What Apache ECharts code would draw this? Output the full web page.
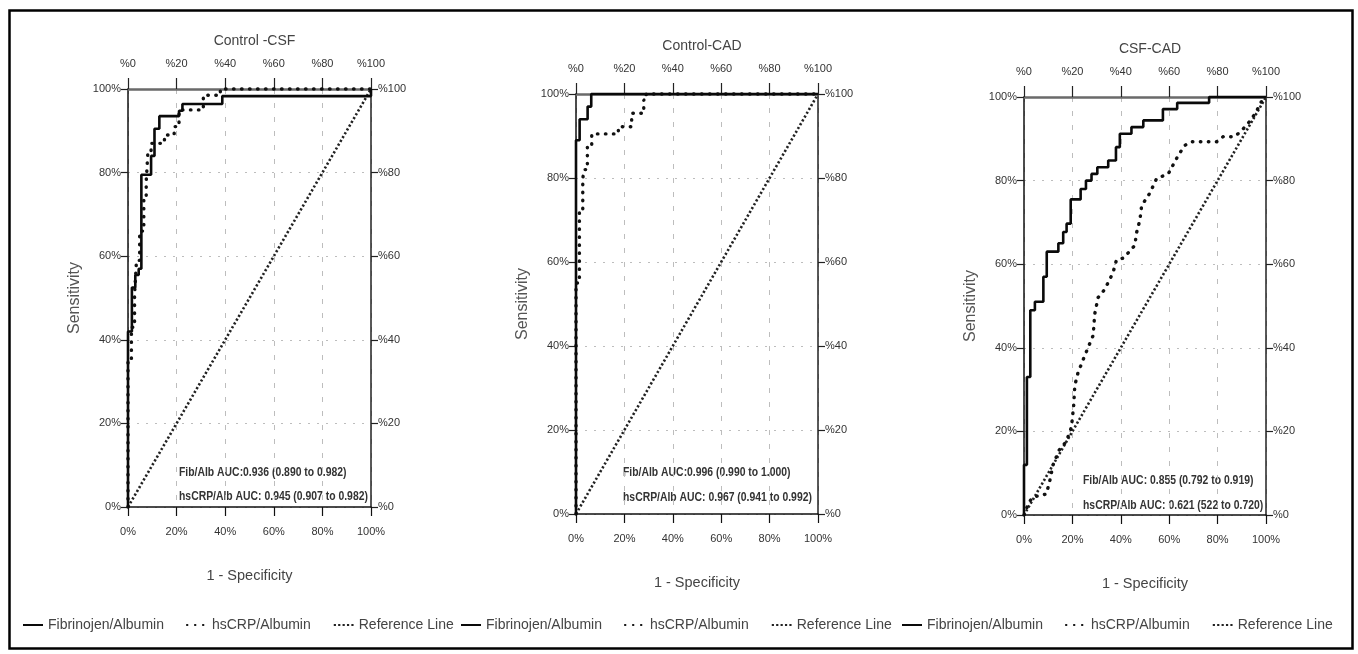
<!DOCTYPE html>
<html>
<head>
<meta charset="utf-8">
<script src="https://cdn.jsdelivr.net/npm/echarts@6/dist/echarts.min.js"></script>
<style>
html,body{margin:0;padding:0;background:#fff;}
#chart{width:1358px;height:654px;}
</style>
</head>
<body>
<div id="chart"></div>
<script>
// ---------- DATA ----------
const axisTicks = [0, 20, 40, 60, 80, 100];
const bottomTickLabels = ['0%', '20%', '40%', '60%', '80%', '100%'];
const topTickLabels = ['%0', '%20', '%40', '%60', '%80', '%100'];
const leftTickLabels = ['0%', '20%', '40%', '60%', '80%', '100%'];
const rightTickLabels = ['%0', '%20', '%40', '%60', '%80', '%100'];

const panelTitles = ['Control -CSF', 'Control-CAD', 'CSF-CAD'];
const seriesNames = ['Fibrinojen/Albumin', 'hsCRP/Albumin', 'Reference Line'];
const aucFibTexts = ['Fib/Alb AUC:0.936 (0.890 to 0.982)', 'Fib/Alb AUC:0.996 (0.990 to 1.000)', 'Fib/Alb AUC: 0.855 (0.792 to 0.919)'];
const aucHsTexts = ['hsCRP/Alb AUC: 0.945 (0.907 to 0.982)', 'hsCRP/Alb AUC: 0.967 (0.941 to 0.992)', 'hsCRP/Alb AUC: 0.621 (522 to 0.720)'];

// [1 - specificity %, sensitivity %]
const fibControlCsf = [[0,0],[0,42],[1.6,42],[1.6,52.5],[3,52.5],[3,55.5],[4.4,55.5],[4.4,57],[5.5,57],[5.5,79.5],[9.5,79.5],[9.5,84],[10.9,84],[10.9,90.5],[12.9,90.5],[12.9,93.5],[21,93.5],[21,94.8],[22.4,94.8],[22.4,96.4],[38.8,96.4],[38.8,98.3],[100,98.3],[100,100]];
const hsControlCsf = [[0,0],[0,35],[1.4,35],[1.4,43],[2.7,43],[2.7,51],[3.5,51],[3.5,59],[4.8,59],[4.8,66],[6.5,66],[6.5,74],[7.5,74],[7.5,78],[8.2,78],[8.2,85],[9.5,85],[9.5,87],[15,87],[15,89],[19,89],[19,91],[21,91],[21,95],[31,95],[31,98.5],[38,98.5],[38,100],[100,100]];

const fibControlCad = [[0,0],[0,89],[1.5,89],[1.5,94],[4.8,94],[4.8,97],[6.3,97],[6.3,100],[100,100]];
const hsControlCad = [[0,0],[0,55],[1.4,55],[1.4,72],[2.8,72],[2.8,80],[3.5,80],[3.5,82],[4.7,82],[4.7,88],[6.5,88],[6.5,90.5],[17.5,90.5],[17.5,92.2],[23,92.2],[23,95.4],[28,95.4],[28,98.6],[29,98.6],[29,100],[100,100]];

const fibCsfCad = [[0,0],[0,12],[1.2,12],[1.2,33],[2.6,33],[2.6,49],[4.5,49],[4.5,51],[8,51],[8,57],[9.4,57],[9.4,63],[14.2,63],[14.2,65],[16.2,65],[16.2,67.7],[17.6,67.7],[17.6,69.7],[19.3,69.7],[19.3,75.5],[23.4,75.5],[23.4,78],[25.6,78],[25.6,80],[27.9,80],[27.9,81.6],[30.3,81.6],[30.3,83.2],[34.8,83.2],[34.8,84.8],[38,84.8],[38,88],[39.6,88],[39.6,91.2],[44.4,91.2],[44.4,92.8],[49.3,92.8],[49.3,94.4],[57.4,94.4],[57.4,97.1],[63.3,97.1],[63.3,98.6],[76.5,98.6],[76.5,100],[100,100]];
const hsCsfCad = [[0,0],[2,3],[3.7,4.3],[9.2,5],[10.6,8],[12,12],[14.5,15.5],[17.5,17.6],[19.6,21],[20.5,26],[21,31],[22.3,34],[25,38],[28.6,43],[29.2,48],[30.6,52],[33.4,54],[36.8,58],[38.2,61],[41.2,61.5],[45.8,64.5],[46.5,67.5],[47.9,70.6],[48.6,74],[52,77],[54.8,80.5],[59.6,81.6],[63.7,86],[66.4,88.4],[69,89.3],[79.6,89.3],[82.3,90.5],[87,90.5],[90,92],[93,94],[95.5,96],[98,98.8],[100,100]];

const referenceLine = [[0,0],[100,100]];

const fibSeriesData = [fibControlCsf, fibControlCad, fibCsfCad];
const hsSeriesData = [hsControlCsf, hsControlCad, hsCsfCad];

// ---------- LAYOUT / STYLE ----------
const layout = [
  {left: 128, top: 89, width: 243, height: 418, aucLeft: 179, aucY1: 472, aucY2: 496, legendLeft: 17},
  {left: 576, top: 94, width: 242, height: 420, aucLeft: 623, aucY1: 472, aucY2: 497, legendLeft: 455},
  {left: 1024, top: 97, width: 242, height: 418, aucLeft: 1083, aucY1: 480, aucY2: 505, legendLeft: 896}
];
const sans = "'Liberation Sans', Arial, sans-serif";
const labelColor = '#333';

function labelFrom(arr) {
  return function (v) { const i = axisTicks.indexOf(Math.round(v)); return i >= 0 ? arr[i] : ''; };
}

const grid = [], xAxis = [], yAxis = [], series = [], title = [], legend = [], graphic = [];

layout.forEach(function (L, p) {
  grid.push({left: L.left, top: L.top, width: L.width, height: L.height, containLabel: false});
  const common = {type: 'value', min: 0, max: 100, interval: 20, gridIndex: p};
  const tickLabel = {fontFamily: sans, fontSize: 11, color: labelColor};
  // bottom x
  xAxis.push(Object.assign({}, common, {
    position: 'bottom',
    name: '1 - Specificity', nameLocation: 'middle', nameGap: 61,
    nameTextStyle: {fontFamily: sans, fontSize: 14.5, color: '#444'},
    axisLine: {show: true, lineStyle: {color: '#111', width: 1.5}},
    axisTick: {show: true, inside: false, length: 9, lineStyle: {color: '#111', width: 1.2}},
    axisLabel: Object.assign({margin: 19, formatter: labelFrom(bottomTickLabels)}, tickLabel),
    splitLine: {show: true, lineStyle: {color: '#bdbdbd', width: 1, type: [5, 9]}}
  }));
  // top x
  xAxis.push(Object.assign({}, common, {
    position: 'top',
    axisLine: {show: true, onZero: false, lineStyle: {color: '#6a6a6a', width: 2.5}},
    axisTick: {show: true, inside: false, length: 11, lineStyle: {color: '#222', width: 1.2}},
    axisLabel: Object.assign({margin: 20, formatter: labelFrom(topTickLabels)}, tickLabel),
    splitLine: {show: false}
  }));
  // left y
  yAxis.push(Object.assign({}, common, {
    position: 'left',
    name: 'Sensitivity', nameLocation: 'middle', nameGap: 45, nameRotate: 90,
    nameTextStyle: {fontFamily: sans, fontSize: 16, color: '#555'},
    axisLine: {show: true, onZero: false, lineStyle: {color: '#111', width: 1.5}},
    axisTick: {show: true, inside: false, length: 7, lineStyle: {color: '#222', width: 1.2}},
    axisLabel: Object.assign({margin: 7, formatter: labelFrom(leftTickLabels)}, tickLabel),
    splitLine: {show: true, lineStyle: {color: '#bdbdbd', width: 1, type: [2, 7]}}
  }));
  // right y
  yAxis.push(Object.assign({}, common, {
    position: 'right',
    axisLine: {show: true, onZero: false, lineStyle: {color: '#222', width: 1.5}},
    axisTick: {show: true, inside: false, length: 7, lineStyle: {color: '#222', width: 1.2}},
    axisLabel: Object.assign({margin: 7, formatter: labelFrom(rightTickLabels)}, tickLabel),
    splitLine: {show: false}
  }));

  const base = {type: 'line', xAxisIndex: 2 * p, yAxisIndex: 2 * p, symbol: 'none', showSymbol: false,
    clip: false, silent: true, animation: false, itemStyle: {color: '#111'}};
  series.push(Object.assign({}, base, {
    name: seriesNames[2], data: referenceLine, z: 2,
    lineStyle: {color: '#222', width: 2.6, type: [2.2, 2.2]}
  }));
  series.push(Object.assign({}, base, {
    name: seriesNames[1], data: hsSeriesData[p], z: 3,
    lineStyle: {color: '#111', width: 3.4, type: [0.5, 7.5], cap: 'round'}
  }));
  series.push(Object.assign({}, base, {
    name: seriesNames[0], data: fibSeriesData[p], z: 4,
    lineStyle: {color: '#0a0a0a', width: 2.6}
  }));

  title.push({
    text: panelTitles[p], left: L.left + L.width / 2, top: L.top - 60, textAlign: 'center',
    textStyle: {fontFamily: sans, fontSize: 14, fontWeight: 'normal', color: '#444'}
  });

  legend.push({
    left: L.legendLeft, top: 613, itemWidth: 20, itemHeight: 12, itemGap: 22,
    data: seriesNames, selectedMode: false,
    itemStyle: {opacity: 0, borderWidth: 0},
    textStyle: {fontFamily: sans, fontSize: 14, color: '#444'}
  });

  graphic.push({type: 'text', x: L.aucLeft, y: L.aucY1, scaleX: 0.77, silent: true,
    style: {text: aucFibTexts[p], font: 'bold 13.5px ' + sans, fill: '#333', textVerticalAlign: 'middle', verticalAlign: 'middle'}});
  graphic.push({type: 'text', x: L.aucLeft, y: L.aucY2, scaleX: 0.77, silent: true,
    style: {text: aucHsTexts[p], font: 'bold 13.5px ' + sans, fill: '#333', textVerticalAlign: 'middle', verticalAlign: 'middle'}});
});

graphic.push({type: 'rect', left: 7, top: 8, silent: true, z: 100,
  shape: {width: 1343, height: 638}, style: {fill: 'none', stroke: '#000', lineWidth: 2.5}});

const chart = echarts.init(document.getElementById('chart'), null, {renderer: 'canvas'});
chart.setOption({
  animation: false,
  backgroundColor: '#fff',
  title: title, grid: grid, xAxis: xAxis, yAxis: yAxis, legend: legend, series: series, graphic: graphic
});
</script>
</body>
</html>
